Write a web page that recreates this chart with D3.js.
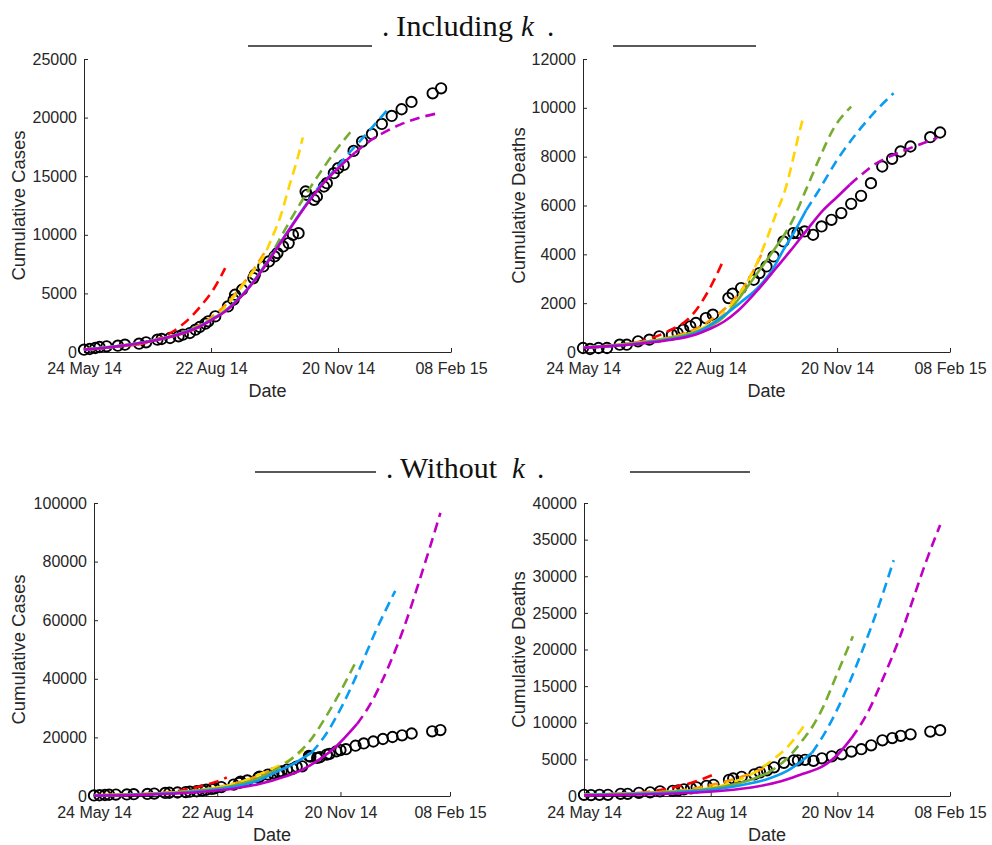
<!DOCTYPE html>
<html>
<head>
<meta charset="utf-8">
<script src="https://cdn.jsdelivr.net/npm/d3@7"></script>
<style>
  body { margin: 0; background: #fff; }
  svg { display: block; }
</style>
</head>
<body>
<div id="fig"></div>
<script>
// observed data, day = days since 24 May 14
const caseDays = [0,4,8,11,16,24,29,39,44,52,55,61,67,70,75,79,82,86,88,93,102,106,107,112,120,121,127,131,135,137,141,145,148,152,157,158,163,165,170,172,177,180,184,191,197,204,211,218,225,232,247,253];
const cases = [200,256,341,426,483,540,625,710,824,1051,1108,1193,1335,1477,1619,1903,2131,2415,2614,3040,3892,4460,4887,5313,6307,6591,7301,7727,8153,8438,9006,9290,10000,10142,13693,13409,12983,13267,14120,14404,15256,15682,15966,17159,17955,18608,19461,20143,20711,21336,22075,22501];
const deathDays = [0,5,11,17,26,31,39,47,54,63,67,71,76,80,87,92,103,106,112,121,125,130,135,142,149,152,157,163,169,176,183,190,197,204,212,219,225,232,246,253];
const deaths = [164,123,164,164,300,300,436,505,641,709,777,914,1050,1187,1391,1528,2210,2387,2619,2960,3232,3505,3914,4528,4869,4869,4937,4801,5142,5415,5688,6070,6397,6915,7597,7911,8211,8416,8798,8989];

const dateTicks = ["2014-05-24", "2014-08-22", "2014-11-20", "2015-02-08"];

const colors = { red: "#ff0000", orange: "#ff9900", yellow: "#ffd400", green: "#77ac30", blue: "#0a9cf2", magenta: "#bf00c4" };

// model fits (solid) and forecasts (dashed), [day, value]
const casesK = [
  { c: "red", fit: [[0,200],[10,300],[20,420],[30,540],[38,650]], fc: [[38,650],[50,1000],[63,1750],[75,2900],[84,4100],[92,5400],[100,7150]] },
  { c: "orange", fit: [[0,200],[20,440],[40,760],[55,1150],[66,1500]], fc: [[66,1500],[80,2200],[90,2950],[101,4100],[110,5400],[120,7000],[128,8500]] },
  { c: "yellow", fit: [[0,200],[20,440],[40,760],[60,1250],[80,2050],[96,3200]], fc: [[96,3200],[110,5300],[120,6900],[127,8100],[133,9700],[139,11500],[146,14400],[151,16400],[155,18300]] },
  { c: "green", fit: [[0,200],[20,440],[40,780],[60,1280],[80,2100],[90,2750],[100,3500],[110,4600],[120,6000],[130,7700]], fc: [[130,7700],[134,8600],[146,11200],[158,13600],[169,15600],[179,17300],[189,18800]] },
  { c: "blue", fit: [[0,200],[20,440],[40,780],[60,1280],[80,2100],[90,2750],[100,3500],[110,4600],[120,6000],[130,7700],[140,9500],[150,11300],[158,12700]], fc: [[158,12700],[162,13400],[175,15200],[188,17000],[200,18600],[216,20800]] },
  { c: "magenta", fit: [[0,200],[20,430],[40,760],[60,1250],[80,2050],[90,2700],[100,3450],[110,4550],[120,5950],[130,7650],[140,9450],[150,11250],[160,12950],[170,14450],[181,15800],[192,17000]], fc: [[192,17000],[200,17800],[212,18700],[224,19400],[238,20000],[252,20400]] }
];

const deathsK = [
  { c: "red", fit: [[0,175],[20,260],[38,390]], fc: [[38,390],[50,600],[62,900],[76,1430],[85,2130],[92,2850],[99,3700]] },
  { c: "orange", fit: [[0,180],[20,265],[40,390],[55,520],[66,650]], fc: [[66,650],[80,950],[90,1300],[100,1750],[110,2350],[120,3250],[128,4200]] },
  { c: "yellow", fit: [[0,180],[20,260],[40,390],[60,560],[80,860],[96,1350]], fc: [[96,1350],[110,2300],[120,3250],[130,4600],[137,5700],[143,6600],[148,7700],[152,8700],[156,9600]] },
  { c: "green", fit: [[0,180],[20,260],[40,380],[60,550],[80,830],[100,1450],[110,2150],[120,2950],[130,3750],[141,4650]], fc: [[141,4650],[149,5450],[158,6650],[168,8000],[177,9100],[190,10050]] },
  { c: "blue", fit: [[0,175],[20,250],[40,360],[60,510],[80,780],[90,1100],[100,1500],[111,2000],[125,2700],[134,3350],[142,4180],[150,4950],[158,5800]], fc: [[158,5800],[166,6520],[180,7860],[194,8970],[208,9910],[220,10600]] },
  { c: "magenta", fit: [[0,170],[20,240],[40,340],[60,480],[80,720],[90,950],[100,1250],[110,1700],[125,2620],[137,3450],[147,4150],[158,4950],[170,5800],[180,6350],[189,6850]], fc: [[189,6850],[198,7300],[207,7700],[217,8000],[234,8400],[251,8770]] }
];

const casesNoK = [
  { c: "red", fit: [[0,200],[20,400],[38,650]], fc: [[38,650],[55,1300],[70,2500],[82,3800],[90,5000],[97,6300]] },
  { c: "orange", fit: [[0,200],[20,420],[40,740],[55,1100],[66,1450]], fc: [[66,1450],[80,2200],[90,3000],[100,4000],[112,5500],[124,7700],[128,8500]] },
  { c: "yellow", fit: [[0,200],[20,420],[40,740],[60,1250],[80,2150],[96,3300]], fc: [[96,3300],[110,5300],[125,8300],[136,10600],[143,12300],[150,14600],[153,15800]] },
  { c: "green", fit: [[0,180],[20,400],[40,700],[60,1200],[80,2000],[100,3300],[115,5200],[130,8200]], fc: [[130,8200],[145,13000],[158,19000],[168,26000],[178,34000],[186,41000],[192,46500]] },
  { c: "blue", fit: [[0,150],[20,330],[40,620],[60,1050],[80,1800],[100,3000],[120,5300],[133,8200],[145,10800],[155,13600],[159,14800]], fc: [[159,14800],[170,21500],[182,31500],[194,43500],[206,56500],[220,70000]] },
  { c: "magenta", fit: [[0,100],[20,250],[40,480],[60,850],[80,1450],[100,2400],[120,4000],[140,6700],[153,9200],[165,12600],[177,17000],[192,24500]], fc: [[192,24500],[202,31500],[214,43000],[226,57000],[238,74000],[253,96600]] }
];

const deathsNoK = [
  { c: "red", fit: [[0,150],[20,250],[40,420]], fc: [[40,420],[54,800],[66,1300],[78,1900],[86,2450],[94,3100]] },
  { c: "orange", fit: [[0,160],[20,250],[40,390],[55,540],[66,700]], fc: [[66,700],[80,1100],[95,1700],[109,2450],[120,3200],[130,4000]] },
  { c: "yellow", fit: [[0,160],[20,250],[40,380],[60,560],[80,850],[96,1300]], fc: [[96,1300],[110,2200],[122,3300],[133,4800],[146,7000],[157,9800]] },
  { c: "green", fit: [[0,160],[20,240],[40,360],[60,530],[80,800],[100,1300],[115,2000],[130,3100]], fc: [[130,3100],[140,4400],[149,6100],[156,7800],[163,9700],[170,12200],[179,16300],[191,21800]] },
  { c: "blue", fit: [[0,130],[20,200],[40,300],[60,450],[80,700],[100,1100],[115,1600],[130,2300],[145,3500],[162,5900]], fc: [[162,5900],[172,8900],[187,14800],[198,20000],[210,26300],[220,32200]] },
  { c: "magenta", fit: [[0,80],[20,130],[40,200],[60,310],[80,480],[100,750],[120,1200],[140,2000],[155,3000],[170,4100],[180,5600],[190,7900]], fc: [[190,7900],[201,11200],[213,16300],[224,21500],[234,27000],[243,32000],[253,37000]] }
];

const W = 992, H = 845;
const FONT = "'Liberation Sans', Helvetica, Arial, sans-serif";
const SERIF = "'Liberation Serif', 'DejaVu Serif', serif";
const INK = "#262626";

const svg = d3.select("#fig").append("svg")
  .attr("width", W)
  .attr("height", H)
  .style("background", "#fff");

const t0 = d3.timeParse("%Y-%m-%d")(dateTicks[0]);
const tEnd = d3.timeParse("%Y-%m-%d")(dateTicks[dateTicks.length - 1]);
const toDate = d => d3.timeDay.offset(t0, d);

const panels = [
  { x0: 84, x1: 451, y0: 59, y1: 352, ymax: 25000, ystep: 5000, ylab: "Cumulative Cases", ylx: 25, days: caseDays, vals: cases, models: casesK },
  { x0: 583, x1: 950, y0: 59, y1: 352, ymax: 12000, ystep: 2000, ylab: "Cumulative Deaths", ylx: 525, days: deathDays, vals: deaths, models: deathsK },
  { x0: 94, x1: 450, y0: 503, y1: 796, ymax: 100000, ystep: 20000, ylab: "Cumulative Cases", ylx: 25, days: caseDays, vals: cases, models: casesNoK },
  { x0: 584, x1: 950, y0: 503, y1: 796, ymax: 40000, ystep: 5000, ylab: "Cumulative Deaths", ylx: 525, days: deathDays, vals: deaths, models: deathsNoK }
];

panels.forEach(p => {
  const x = d3.scaleTime().domain([t0, tEnd]).range([p.x0, p.x1]);
  const y = d3.scaleLinear().domain([0, p.ymax]).range([p.y1, p.y0]);

  // axes
  const xAxis = svg.append("g")
    .attr("transform", `translate(0,${p.y1})`)
    .call(d3.axisBottom(x)
      .tickValues(dateTicks.map(d3.timeParse("%Y-%m-%d")))
      .tickFormat(d3.timeFormat("%d %b %y"))
      .tickSizeInner(-4).tickSizeOuter(0).tickPadding(11));
  const yAxis = svg.append("g")
    .attr("transform", `translate(${p.x0},0)`)
    .call(d3.axisLeft(y)
      .tickValues(d3.range(0, p.ymax + 1, p.ystep))
      .tickFormat(d3.format("d"))
      .tickSizeInner(-4).tickSizeOuter(0).tickPadding(7));
  [xAxis, yAxis].forEach(a => {
    a.selectAll("path, line").attr("stroke", INK).attr("stroke-width", 1);
    a.selectAll("text").attr("fill", INK).style("font-family", FONT).style("font-size", "16px");
  });

  svg.append("text")
    .attr("x", (p.x0 + p.x1) / 2)
    .attr("y", p.y1 + 45)
    .attr("text-anchor", "middle")
    .attr("fill", INK)
    .style("font-family", FONT).style("font-size", "18px")
    .text("Date");

  svg.append("text")
    .attr("transform", `translate(${p.ylx},${(p.y0 + p.y1) / 2}) rotate(-90)`)
    .attr("text-anchor", "middle")
    .attr("fill", INK)
    .style("font-family", FONT).style("font-size", "18.5px")
    .text(p.ylab);

  // observed data
  svg.append("g").selectAll("circle")
    .data(p.days.map((d, i) => [d, p.vals[i]]))
    .join("circle")
    .attr("cx", d => x(toDate(d[0])))
    .attr("cy", d => y(d[1]))
    .attr("r", 5.2)
    .attr("fill", "none")
    .attr("stroke", "#000")
    .attr("stroke-width", 1.9);

  // model curves
  const line = d3.line()
    .x(d => x(toDate(d[0])))
    .y(d => y(d[1]))
    .curve(d3.curveMonotoneX);

  const g = svg.append("g");
  p.models.forEach(m => {
    g.append("path")
      .attr("d", line(m.fit))
      .attr("fill", "none")
      .attr("stroke", colors[m.c])
      .attr("stroke-width", 2.6);
    g.append("path")
      .attr("d", line(m.fc))
      .attr("fill", "none")
      .attr("stroke", colors[m.c])
      .attr("stroke-width", 2.6)
      .attr("stroke-dasharray", "10,6");
  });
});

// section titles
const titles = [
  { word: "Including", base: 36, line: 46, l0: 248, l1: 372, dot1: 382, w0: 396, ww: 117, k: 521, dot2: 547, r0: 613, r1: 756 },
  { word: "Without", base: 478, line: 472, l0: 255, l1: 376, dot1: 386, w0: 400, ww: 97, k: 512, dot2: 537, r0: 630, r1: 750 }
];
titles.forEach(t => {
  const g = svg.append("g").attr("fill", "#111").style("font-family", SERIF).style("font-size", "29px");
  g.append("line").attr("x1", t.l0).attr("x2", t.l1).attr("y1", t.line).attr("y2", t.line).attr("stroke", "#222").attr("stroke-width", 1.5);
  g.append("line").attr("x1", t.r0).attr("x2", t.r1).attr("y1", t.line).attr("y2", t.line).attr("stroke", "#222").attr("stroke-width", 1.5);
  g.append("text").attr("x", t.dot1).attr("y", t.base).text(".");
  g.append("text").attr("x", t.w0).attr("y", t.base)
    .attr("textLength", t.ww).attr("lengthAdjust", "spacingAndGlyphs").text(t.word);
  g.append("text").attr("x", t.k).attr("y", t.base).style("font-style", "italic").text("k");
  g.append("text").attr("x", t.dot2).attr("y", t.base).text(".");
});
</script>
</body>
</html>
